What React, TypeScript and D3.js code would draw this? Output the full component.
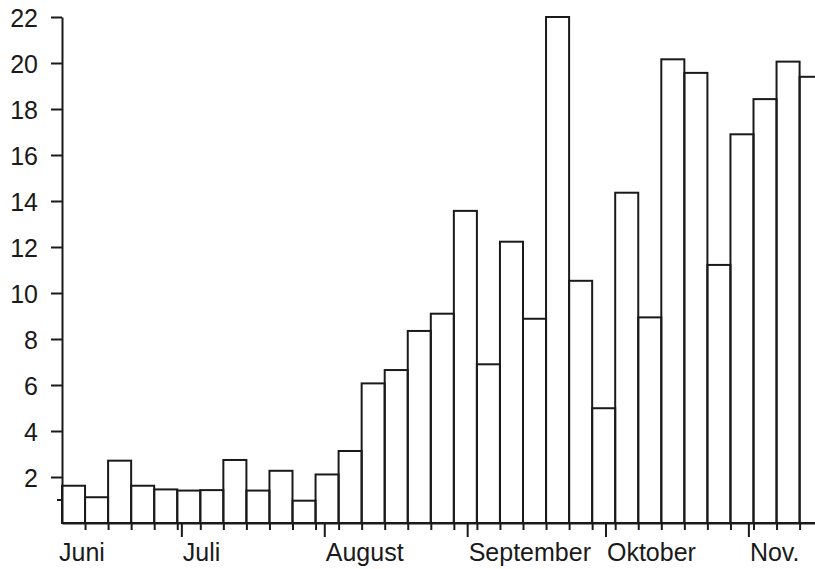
import React, { useEffect, useRef } from "react";
import * as d3 from "d3";

// 5-day periods (pentads) starting 5 June
const firstPentad = new Date(1979, 5, 5);
const pentadValues = [
  1.62, 1.12, 2.71, 1.62, 1.46, 1.41, 1.43, 2.74, 1.41, 2.27, 0.97,
  2.11, 3.13, 6.07, 6.65, 8.35, 9.1, 13.57, 6.9, 12.23, 8.88, 22,
  10.53, 4.99, 14.36, 8.94, 20.16, 19.57, 11.22, 16.9, 18.43, 20.06, 19.4,
];
const yTicks = [2, 4, 6, 8, 10, 12, 14, 16, 18, 20, 22];
const yMinorTicks = [1];
const monthNames = ["Juni", "Juli", "August", "September", "Oktober", "Nov."];
const monthStarts = [
  new Date(1979, 5, 1),
  new Date(1979, 6, 1),
  new Date(1979, 7, 1),
  new Date(1979, 8, 1),
  new Date(1979, 9, 1),
  new Date(1979, 10, 1),
];

const W = 815;
const H = 569;
const FONT = "'Liberation Sans', Arial, Helvetica, sans-serif";
const INK = "#1a1a1a";

const App = () => {
  const ref = useRef<SVGSVGElement>(null);

  useEffect(() => {
    const svg = d3.select(ref.current);
    svg.selectAll("*").remove();

    const n = pentadValues.length;
    const left = 62;
    const barW = 23.05;
    const x = d3
      .scaleTime()
      .domain([firstPentad, d3.timeDay.offset(firstPentad, n * 5)])
      .range([left, left + n * barW]);
    const y = d3.scaleLinear().domain([0, 22]).range([523, 17]);

    const bars = pentadValues.map((v, i) => ({
      v,
      start: d3.timeDay.offset(firstPentad, i * 5),
      end: d3.timeDay.offset(firstPentad, (i + 1) * 5),
    }));

    // bars
    svg
      .append("g")
      .selectAll("rect")
      .data(bars)
      .enter()
      .append("rect")
      .attr("x", (d) => x(d.start))
      .attr("width", (d) => x(d.end) - x(d.start))
      .attr("y", (d) => y(d.v))
      .attr("height", (d) => y(0) - y(d.v))
      .attr("fill", "none")
      .attr("stroke", INK)
      .attr("stroke-width", 2);

    // y axis
    const yAxis = svg
      .append("g")
      .attr("transform", `translate(${left},0)`)
      .call(
        d3
          .axisLeft(y)
          .tickValues(yTicks)
          .tickSize(11)
          .tickSizeOuter(0)
          .tickPadding(13)
      );
    yAxis.selectAll("path, line").attr("stroke", INK).attr("stroke-width", 2);
    yAxis
      .selectAll("text")
      .attr("fill", INK)
      .attr("font-family", FONT)
      .attr("font-size", 25)
      .attr("dy", "0.36em");

    yAxis
      .selectAll(".minor")
      .data(yMinorTicks)
      .enter()
      .append("line")
      .attr("x1", -5)
      .attr("x2", 0)
      .attr("y1", (d) => y(d))
      .attr("y2", (d) => y(d))
      .attr("stroke", INK)
      .attr("stroke-width", 2);

    // x axis: pentad boundaries
    const boundaries = bars.map((d) => d.end);
    const xAxis = svg
      .append("g")
      .attr("transform", `translate(0,${y(0)})`)
      .call(
        d3
          .axisBottom(x)
          .tickValues(boundaries)
          .tickSize(7)
          .tickSizeOuter(0)
          .tickFormat(() => "")
      );
    xAxis.selectAll("path, line").attr("stroke", INK).attr("stroke-width", 2);

    // month ticks
    const domain = x.domain();
    const monthTicks = monthStarts.filter((d) => d > domain[0]);
    xAxis
      .selectAll(".month-tick")
      .data(monthTicks)
      .enter()
      .append("line")
      .attr("x1", (d) => x(d))
      .attr("x2", (d) => x(d))
      .attr("y1", 0)
      .attr("y2", 14)
      .attr("stroke", INK)
      .attr("stroke-width", 2);

    // month labels
    svg
      .append("g")
      .selectAll("text")
      .data(monthNames)
      .enter()
      .append("text")
      .attr("x", (d, i) => Math.max(x(monthStarts[i]), left - 4) + 1)
      .attr("y", 561)
      .attr("fill", INK)
      .attr("font-family", FONT)
      .attr("font-size", 25)
      .text((d) => d);
  }, []);

  return (
    <svg
      ref={ref}
      width={W}
      height={H}
      style={{ position: "absolute", left: 0, top: 0, background: "#fff" }}
    ></svg>
  );
};

export default App;
